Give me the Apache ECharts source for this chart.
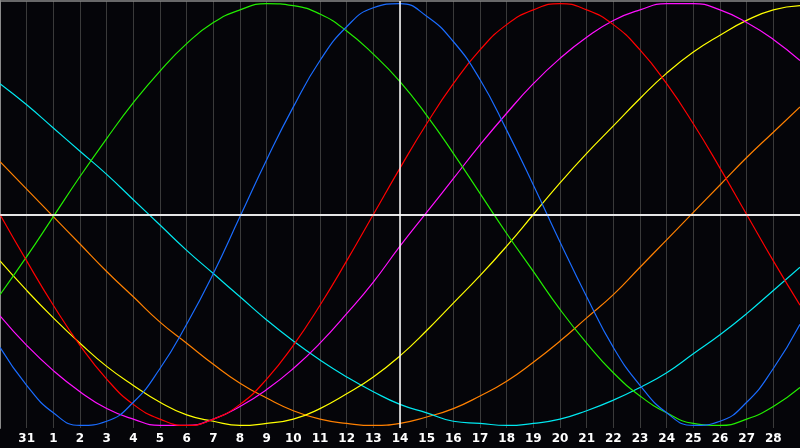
<!DOCTYPE html>
<html>
<head>
<meta charset="utf-8">
<script src="https://cdn.jsdelivr.net/npm/echarts@6/dist/echarts.min.js"></script>
<style>
  html, body { margin: 0; padding: 0; background: #050509; }
  #biorhythm { width: 800px; height: 448px; }
</style>
</head>
<body>
<div id="biorhythm"></div>
<script>
// days shown along the bottom (first and last are edges, not labelled)
var days = ['30', '31', '1', '2', '3', '4', '5', '6', '7', '8', '9', '10', '11', '12', '13', '14',
  '15', '16', '17', '18', '19', '20', '21', '22', '23', '24', '25', '26', '27', '28', '29'];
var today = '14';

var red = [0, -0.22, -0.43, -0.62, -0.78, -0.90, -0.97, -1.00, -0.97, -0.90, -0.78, -0.62, -0.43, -0.22, 0,
  0.22, 0.43, 0.62, 0.78, 0.90, 0.97, 1.00, 0.97, 0.90, 0.78, 0.62, 0.43, 0.22, 0, -0.22, -0.43];
var green = [-0.38, -0.20, -0.01, 0.18, 0.36, 0.53, 0.68, 0.81, 0.91, 0.97, 1.00, 0.99, 0.95, 0.87, 0.76,
  0.63, 0.47, 0.29, 0.10, -0.09, -0.27, -0.45, -0.61, -0.75, -0.86, -0.94, -0.99, -1.00, -0.97, -0.91, -0.82];
var blue = [-0.63, -0.81, -0.94, -1.00, -0.98, -0.89, -0.73, -0.52, -0.28, -0.01, 0.26, 0.51, 0.73, 0.89, 0.98,
  1.00, 0.94, 0.82, 0.64, 0.40, 0.14, -0.13, -0.39, -0.63, -0.81, -0.94, -1.00, -0.98, -0.89, -0.73, -0.52];
var magenta = [-0.48, -0.62, -0.74, -0.84, -0.92, -0.97, -1.00, -1.00, -0.97, -0.91, -0.83, -0.73, -0.61, -0.47, -0.32,
  -0.15, 0.01, 0.17, 0.33, 0.48, 0.62, 0.74, 0.84, 0.92, 0.97, 1.00, 1.00, 0.97, 0.91, 0.83, 0.73];
var yellow = [-0.22, -0.36, -0.49, -0.61, -0.72, -0.81, -0.89, -0.95, -0.98, -1.00, -0.99, -0.97, -0.92, -0.85, -0.77,
  -0.67, -0.55, -0.42, -0.29, -0.15, 0, 0.15, 0.29, 0.42, 0.55, 0.67, 0.77, 0.85, 0.92, 0.97, 0.99];
var cyan = [0.62, 0.52, 0.41, 0.30, 0.19, 0.07, -0.05, -0.17, -0.28, -0.39, -0.50, -0.60, -0.69, -0.77, -0.84,
  -0.90, -0.94, -0.98, -0.99, -1.00, -0.99, -0.97, -0.93, -0.88, -0.82, -0.75, -0.66, -0.57, -0.47, -0.36, -0.25];
var orange = [0.25, 0.12, -0.01, -0.14, -0.27, -0.39, -0.51, -0.61, -0.71, -0.80, -0.87, -0.93, -0.97, -0.99, -1.00,
  -0.99, -0.96, -0.92, -0.86, -0.79, -0.70, -0.60, -0.49, -0.38, -0.25, -0.12, 0.01, 0.14, 0.27, 0.39, 0.51];

var curves = [
  { name: 'orange', data: orange, color: '#ff8000' },
  { name: 'cyan', data: cyan, color: '#00e8f0' },
  { name: 'yellow', data: yellow, color: '#ffff00' },
  { name: 'magenta', data: magenta, color: '#ff10ff' },
  { name: 'green', data: green, color: '#22ee00' },
  { name: 'red', data: red, color: '#ff0000' },
  { name: 'blue', data: blue, color: '#1a6cff' }
];

var chartDom = document.getElementById('biorhythm');
var myChart = echarts.init(chartDom, null, { renderer: 'canvas' });

var series = [{
  // white centre line and today marker, below the curves
  type: 'line',
  data: [],
  z: 1,
  silent: true,
  markLine: {
    symbol: 'none',
    silent: true,
    label: { show: false },
    lineStyle: { color: '#ffffff', width: 1.5, type: 'solid' },
    data: [{ yAxis: 0 }, { xAxis: today }]
  }
}];

curves.forEach(function (c) {
  series.push({
    name: c.name,
    type: 'line',
    data: c.data,
    smooth: true,
    symbol: 'none',
    z: 3,
    lineStyle: { color: c.color, width: 1.2 },
    itemStyle: { color: c.color }
  });
});

var option = {
  backgroundColor: '#050509',
  animation: false,
  grid: { left: 0, right: 0, top: 1, bottom: 20 },
  xAxis: [{
    type: 'category',
    data: days,
    boundaryGap: false,
    axisLine: { show: true, lineStyle: { color: '#9a9a9a', width: 2 } },
    axisTick: { show: false },
    axisLabel: {
      color: '#ffffff',
      fontFamily: 'DejaVu Sans',
      fontWeight: 'bold',
      fontSize: 12,
      margin: 5,
      interval: function (index) { return index > 0 && index < days.length - 1; }
    },
    splitLine: { show: true, lineStyle: { color: '#3a3a3a', width: 1 } }
  }, {
    type: 'category',
    data: days,
    position: 'top',
    boundaryGap: false,
    axisLine: { show: true, lineStyle: { color: '#8a8a8a', width: 1.5 } },
    axisTick: { show: false },
    axisLabel: { show: false },
    splitLine: { show: false }
  }],
  yAxis: {
    type: 'value',
    min: -1.012,
    max: 1.012,
    axisLine: { show: true, lineStyle: { color: '#8a8a8a', width: 2 } },
    axisTick: { show: false },
    axisLabel: { show: false },
    splitLine: { show: false }
  },
  series: series
};

option && myChart.setOption(option);
</script>
</body>
</html>
